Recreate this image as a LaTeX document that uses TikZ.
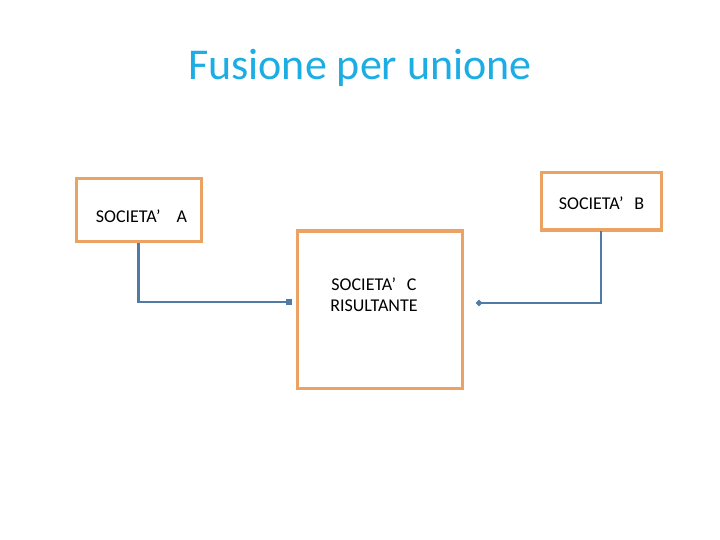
\documentclass[tikz,border=0pt]{standalone}
\usepackage{fontspec}
\setmainfont{Carlito}
\usetikzlibrary{arrows.meta}

\definecolor{titlecol}{HTML}{1CADE4}
\definecolor{boxcol}{HTML}{EBA263}
\definecolor{linecol}{HTML}{4F7BA6}

\tikzset{
  societa/.style={draw=boxcol, line width=3pt, inner sep=0pt},
  conn/.style={draw=linecol, line width=2.2pt},
  lbl/.style={font=\fontsize{18}{21}\selectfont, inner sep=0pt, align=center}
}

\begin{document}
\begin{tikzpicture}[x=1pt,y=-1pt]
    \useasboundingbox (0,0) rectangle (720,540);

    \node[font=\fontsize{44}{50}\selectfont, text=titlecol] (titolo) at (360,68) {Fusione per unione};

 	% le tre societa'
 	\node[societa, minimum width=125pt, minimum height=62pt] (socA) at (138.5,210) {};
 	\node[societa, minimum width=120pt, minimum height=57pt] (socB) at (601,201.5) {};
 	\node[societa, minimum width=165pt, minimum height=157pt] (socC) at (379.5,309.5) {};

 	\node[lbl] (txtA) at (141.5,216) {SOCIETA’\hspace{0.9em}A};
 	\node[lbl] (txtB) at (601.5,203) {SOCIETA’\hspace{0.6em}B};
 	\node[lbl, text depth=0pt] (txtC) at (374,295) {SOCIETA’\hspace{0.6em}C\\RISULTANTE};

 	% collegamenti
 	\coordinate (endA) at (292,302);
 	\coordinate (endB) at (476,303);
 	\draw[conn, -{Square[length=6pt,width=6pt]}] (socA.south) |- (endA);
 	\draw[conn, -{Circle[length=6pt,width=6pt]}] (socB.south) |- (endB);
\end{tikzpicture}
\end{document}
